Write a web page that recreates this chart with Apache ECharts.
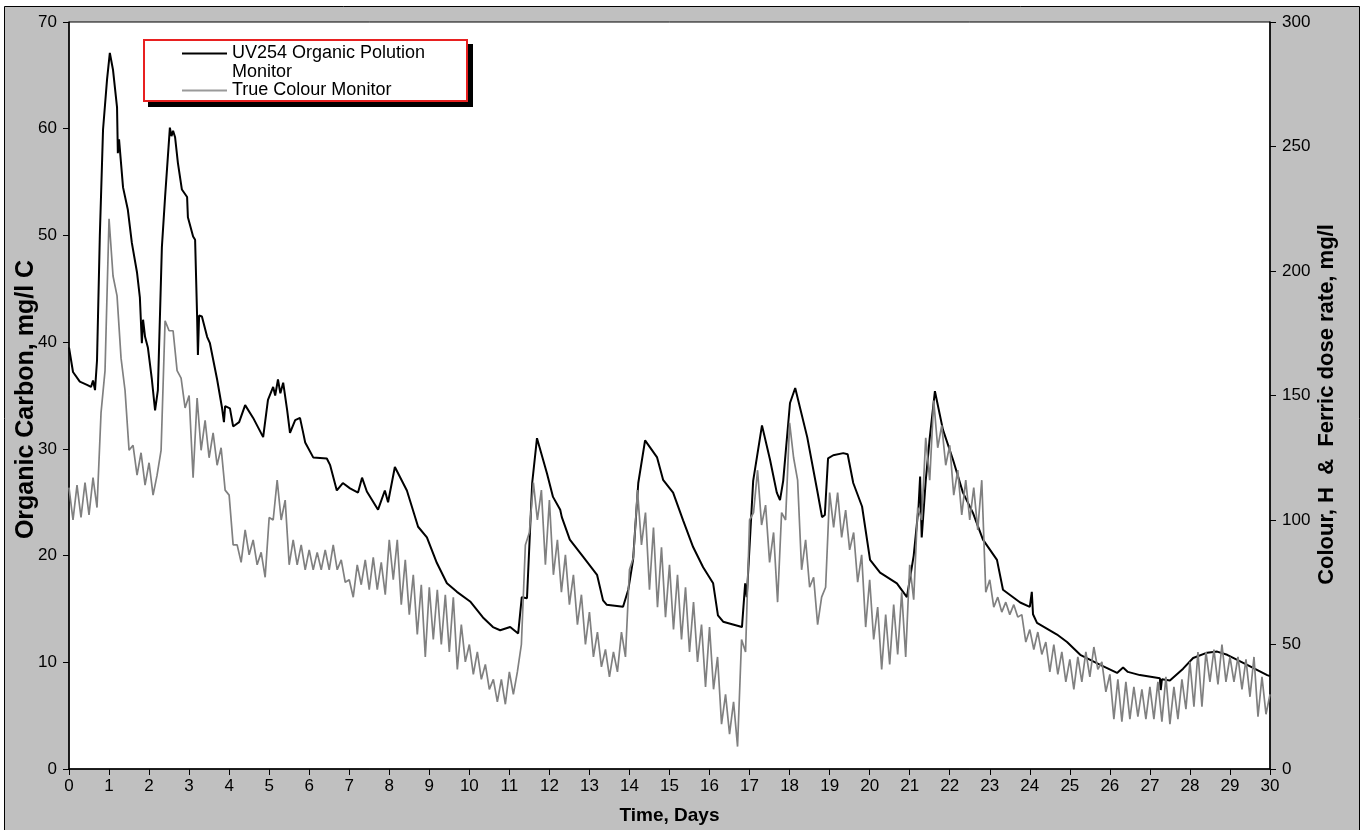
<!DOCTYPE html>
<html>
<head>
<meta charset="utf-8">
<title>UV254 and true colour monitors</title>
<script src="https://cdn.jsdelivr.net/npm/echarts@6/dist/echarts.min.js"></script>
<style>
  html, body { margin: 0; padding: 0; background: #fff; }
  #chart { width: 1365px; height: 830px; }
</style>
</head>
<body>
<div id="chart"></div>
<script>
const uvDays = [
  0, 0.1, 0.27, 0.45, 0.55, 0.6, 0.65, 0.7, 0.77, 0.85, 0.95, 1.02, 1.1, 1.2, 1.22, 1.25, 1.35, 1.47, 1.57, 1.7,
  1.77, 1.82, 1.85, 1.9, 1.97, 2.07, 2.15, 2.22, 2.32, 2.4, 2.52, 2.56, 2.6, 2.65, 2.72, 2.82, 2.95, 2.97, 3.1, 3.15,
  3.2, 3.22, 3.25, 3.32, 3.45, 3.52, 3.7, 3.82, 3.87, 3.9, 4.02, 4.1, 4.25, 4.4, 4.6, 4.85, 4.97, 5.1, 5.15, 5.22,
  5.28, 5.35, 5.45, 5.52, 5.65, 5.77, 5.85, 5.9, 6.1, 6.44, 6.52, 6.69, 6.84, 7.02, 7.22, 7.32, 7.44, 7.72, 7.89, 7.97,
  8.14, 8.44, 8.72, 8.94, 9.19, 9.44, 9.69, 10.02, 10.34, 10.59, 10.77, 11.02, 11.22, 11.31, 11.44, 11.57, 11.69, 11.94, 12.09, 12.27,
  12.31, 12.51, 12.84, 13.19, 13.34, 13.43, 13.84, 13.97, 14.09, 14.22, 14.39, 14.69, 14.84, 15.09, 15.34, 15.59, 15.84, 16.09, 16.21, 16.34,
  16.81, 16.89, 16.93, 17.09, 17.31, 17.51, 17.68, 17.76, 17.84, 18.01, 18.14, 18.44, 18.69, 18.81, 18.88, 18.96, 19.09, 19.34, 19.45, 19.59,
  19.81, 20.01, 20.26, 20.68, 20.93, 21.1, 21.22, 21.26, 21.3, 21.4, 21.5, 21.63, 21.83, 22.08, 22.33, 22.58, 22.83, 23.18, 23.33, 23.76,
  24.0, 24.05, 24.08, 24.18, 24.68, 24.93, 25.26, 25.76, 26.18, 26.33, 26.45, 26.75, 27.25, 27.27, 27.3, 27.5, 27.83, 28.08, 28.43, 28.68,
  28.93, 29.43, 29.93, 30
];
const uvCarbon = [
  39.5, 37.2, 36.3, 36.0, 35.8, 36.4, 35.5, 38.3, 50.0, 59.9, 64.6, 67.1, 65.5, 62.0, 57.7, 59.0, 54.5, 52.4, 49.3, 46.5,
  44.2, 39.9, 42.1, 40.5, 39.5, 36.5, 33.6, 35.5, 48.9, 53.6, 60.1, 59.3, 59.8, 59.2, 56.8, 54.3, 53.6, 51.7, 49.9, 49.6,
  42.4, 38.8, 42.5, 42.4, 40.5, 39.9, 36.5, 33.9, 32.5, 34.0, 33.8, 32.1, 32.5, 34.1, 32.9, 31.1, 34.6, 35.8, 35.0, 36.5,
  35.2, 36.2, 33.6, 31.5, 32.7, 32.9, 31.5, 30.6, 29.2, 29.1, 28.5, 26.1, 26.8, 26.3, 25.9, 27.3, 26.0, 24.3, 26.1, 25.0,
  28.3, 26.1, 22.7, 21.7, 19.3, 17.4, 16.6, 15.7, 14.2, 13.3, 13.0, 13.3, 12.7, 16.1, 16.0, 26.8, 31.0, 27.7, 25.5, 24.3,
  23.6, 21.5, 19.9, 18.2, 15.8, 15.4, 15.2, 16.8, 19.6, 26.8, 30.8, 29.2, 27.1, 25.9, 23.3, 20.8, 18.9, 17.4, 14.4, 13.8,
  13.3, 17.4, 16.1, 27.0, 32.2, 29.0, 25.9, 25.2, 27.0, 34.3, 35.7, 31.1, 26.1, 23.6, 23.8, 29.1, 29.4, 29.6, 29.5, 26.8,
  24.6, 19.6, 18.4, 17.4, 16.1, 20.0, 24.5, 27.4, 21.7, 27.0, 31.0, 35.4, 31.8, 29.0, 25.9, 24.0, 21.5, 19.6, 16.8, 15.6,
  15.2, 16.6, 14.5, 13.7, 12.6, 11.9, 10.7, 9.75, 9.0, 9.5, 9.1, 8.8, 8.5, 7.4, 8.4, 8.3, 9.4, 10.4, 10.9, 11.0,
  10.7, 9.75, 8.8, 8.7
];

// True colour (right axis), read every 0.2 day: top of the noisy band at the
// sample day, bottom of the band 0.1 day later
const colourStep = 0.2;
const colourHigh = [
  113, 114, 115, 117, 143, 221, 190, 152, 130, 127,
  123, 118, 180, 176, 157, 150, 149, 140, 135, 129,
  110, 90, 96, 92, 87, 101, 116, 108, 92, 90,
  88, 87, 88, 90, 84, 76, 82, 84, 85, 83,
  92, 92, 84, 78, 74, 73, 72, 70, 69, 58,
  50, 47, 42, 36, 36, 39, 39, 90, 115, 112,
  108, 92, 86, 78, 70, 63, 55, 48, 47, 55,
  80, 112, 103, 97, 89, 82, 78, 73, 67, 58,
  57, 45, 30, 27, 52, 100, 120, 106, 95, 103,
  139, 116, 92, 77, 69, 111, 111, 104, 95, 86,
  76, 65, 62, 66, 71, 82, 105, 133, 148, 138,
  130, 120, 116, 113, 116, 76, 69, 67, 66, 62,
  56, 55, 51, 50, 47, 44, 45, 47, 49, 43,
  38, 36, 35, 33, 32, 33, 35, 37, 33, 36,
  43, 47, 47, 48, 50, 45, 45, 44, 45, 37,
  30
];
const colourLow = [
  100, 101, 102, 105, 160, 198, 165, 128, 118, 114,
  110, 128, 176, 160, 145, 117, 128, 125, 122, 112,
  90, 83, 86, 82, 77, 100, 100, 82, 82, 80,
  80, 80, 80, 80, 75, 69, 74, 72, 72, 70,
  76, 66, 62, 54, 45, 52, 50, 47, 40, 43,
  38, 36, 32, 27, 26, 30, 50, 95, 100, 82,
  78, 71, 66, 58, 50, 45, 41, 37, 39, 45,
  85, 90, 72, 65, 61, 56, 52, 47, 43, 33,
  32, 18, 14, 9, 47, 103, 98, 83, 67, 100,
  125, 80, 73, 58, 73, 97, 93, 88, 75, 57,
  52, 40, 42, 46, 45, 68, 100, 116, 129, 122,
  110, 102, 100, 96, 71, 65, 63, 62, 61, 51,
  48, 46, 39, 38, 35, 32, 35, 37, 40, 31,
  20, 19, 20, 21, 20, 20, 19, 18, 20, 24,
  25, 25, 35, 34, 35, 35, 32, 29, 21, 22,
  22
];

const uvName = 'UV254 Organic Polution\nMonitor';
const colourName = 'True Colour Monitor';

const uvPoints = uvDays.map((d, i) => [d, uvCarbon[i]]);
const colourPoints = [];
colourHigh.forEach((v, i) => {
  const d = +(i * colourStep).toFixed(2);
  colourPoints.push([d, v]);
  if (d + colourStep / 2 <= 30) colourPoints.push([+(d + colourStep / 2).toFixed(2), colourLow[i]]);
});

const font = '"Liberation Sans", Arial, sans-serif';

const chart = echarts.init(document.getElementById('chart'));
chart.setOption({
  animation: false,
  backgroundColor: '#fff',
  textStyle: { fontFamily: font, color: '#000' },
  graphic: [
    {
      type: 'rect', z: -10, silent: true,
      shape: { x: 4.5, y: 6.5, width: 1355, height: 840 },
      style: { fill: '#c0c0c0', stroke: '#000', lineWidth: 1 }
    },
    {
      type: 'rect', z: 3, silent: true,
      shape: { x: 148, y: 44, width: 325, height: 63 },
      style: { fill: '#000' }
    },
    {
      type: 'rect', z: 3, silent: true,
      shape: { x: 144, y: 40, width: 323, height: 61 },
      style: { fill: '#fff', stroke: '#e82020', lineWidth: 2 }
    }
  ],
  grid: {
    left: 69, right: 95, top: 22, bottom: 61,
    outerBoundsMode: 'none',
    show: true, backgroundColor: '#fff', borderColor: '#000', borderWidth: 1
  },
  legend: {
    orient: 'vertical',
    left: 182,
    top: 25.75,
    padding: 0,
    itemGap: 0,
    itemWidth: 45,
    itemHeight: 2,
    icon: 'rect',
    // a blank first line keeps the first legend line level with its sample line
    formatter: name => (name === uvName ? '{gap| }\n' + name : name),
    textStyle: {
      fontFamily: font, fontSize: 18, lineHeight: 18.5, color: '#000',
      rich: { gap: { fontSize: 18, lineHeight: 18.5 } }
    },
    data: [uvName, colourName]
  },
  xAxis: {
    type: 'value', min: 0, max: 30, interval: 1,
    name: 'Time, Days', nameLocation: 'middle', nameGap: 37,
    nameTextStyle: { fontFamily: font, fontWeight: 'bold', fontSize: 19, color: '#000' },
    axisLine: { onZero: false, lineStyle: { color: '#000', width: 1.5 } },
    axisTick: { length: 6, lineStyle: { color: '#000' } },
    axisLabel: { color: '#000', fontSize: 17, margin: 9 },
    splitLine: { show: false }
  },
  yAxis: [
    {
      type: 'value', min: 0, max: 70, interval: 10, position: 'left',
      name: 'Organic Carbon, mg/l C', nameLocation: 'middle', nameGap: 30, nameRotate: 90,
      nameMoveOverlap: false,
      nameTextStyle: { fontFamily: font, fontWeight: 'bold', fontSize: 25, color: '#000', padding: [0, 8, 0, 0] },
      axisLine: { show: true, lineStyle: { color: '#000', width: 1.5 } },
      axisTick: { show: true, length: 6, lineStyle: { color: '#000' } },
      axisLabel: { color: '#000', fontSize: 17, margin: 12 },
      splitLine: { show: false }
    },
    {
      type: 'value', min: 0, max: 300, interval: 50, position: 'right',
      name: 'Colour, H  &  Ferric dose rate, mg/l', nameLocation: 'middle', nameGap: 46, nameRotate: 90,
      nameMoveOverlap: false,
      nameTextStyle: { fontFamily: font, fontWeight: 'bold', fontSize: 22, color: '#000', padding: [0, 18, 0, 0] },
      axisLine: { show: true, lineStyle: { color: '#000', width: 1.5 } },
      axisTick: { show: true, length: 6, lineStyle: { color: '#000' } },
      axisLabel: { color: '#000', fontSize: 17, margin: 12 },
      splitLine: { show: false }
    }
  ],
  series: [
    {
      name: uvName, type: 'line', yAxisIndex: 0, data: uvPoints,
      symbol: 'none', z: 2,
      lineStyle: { color: '#000', width: 2 },
      itemStyle: { color: '#000' }
    },
    {
      name: colourName, type: 'line', yAxisIndex: 1, data: colourPoints,
      symbol: 'none', z: 3,
      lineStyle: { color: '#808080', width: 1.7 },
      itemStyle: { color: '#9a9a9a' }
    }
  ]
});
</script>
</body>
</html>
